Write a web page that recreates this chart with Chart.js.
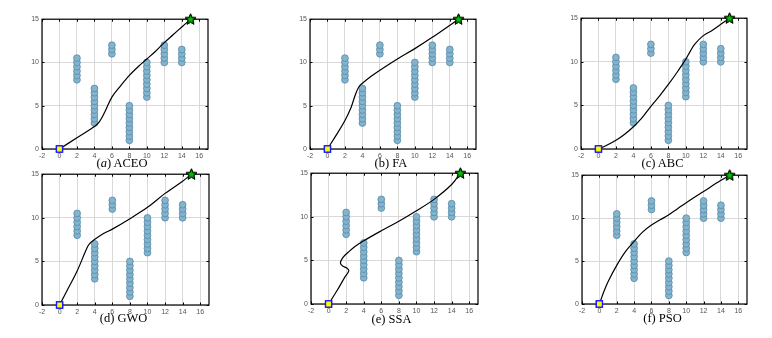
<!DOCTYPE html>
<html>
<head>
<meta charset="utf-8">
<script src="https://cdn.jsdelivr.net/npm/chart.js@4.4.1/dist/chart.umd.min.js"></script>
<style>
  html, body { margin: 0; padding: 0; background: #ffffff; }
  body { width: 772px; height: 338px; position: relative; overflow: hidden; }
  canvas { position: absolute; }
  .ttl { position: absolute; font-family: "Liberation Serif", "Times New Roman", serif; font-size: 12.5px; color: #000; white-space: nowrap; transform: translate(-50%, -50%); }
</style>
</head>
<body>
<script>
// ---- tick labels ----
const xTicks = [-2, 0, 2, 4, 6, 8, 10, 12, 14, 16];
const yTicks = [0, 5, 10, 15];

// ---- obstacles (circle centres) ----
const obstacleX = [2,2,2,2,2,2, 4,4,4,4,4,4,4,4,4, 6,6,6, 8,8,8,8,8,8,8,8,8, 10,10,10,10,10,10,10,10,10, 12,12,12,12,12, 14,14,14,14];
const obstacleY = [8,8.5,9,9.5,10,10.5, 3,3.5,4,4.5,5,5.5,6,6.5,7, 11,11.5,12, 1,1.5,2,2.5,3,3.5,4,4.5,5, 6,6.5,7,7.5,8,8.5,9,9.5,10, 10,10.5,11,11.5,12, 10,10.5,11,11.5];

// ---- start / goal ----
const startX = [0], startY = [0];
const goalX = [15], goalY = [15];

// ---- planned paths ----
const aceoX = [0, 2, 4, 4.6, 5.2, 6, 7, 8, 9, 10, 11, 12, 13, 14, 15];
const aceoY = [0, 1.3, 2.6, 3.2, 4.3, 6.0, 7.3, 8.5, 9.5, 10.4, 11.3, 12.3, 13.2, 14.1, 15];

const faX = [0, 1, 2, 2.7, 3.2, 3.6, 4, 5, 6, 8, 10, 12, 15];
const faY = [0, 1.6, 3.3, 4.8, 6.3, 7.2, 7.6, 8.4, 9.1, 10.4, 11.6, 12.9, 15];

const abcX = [0, 1, 2, 3, 4, 5, 6, 7, 8, 9, 10, 10.5, 11, 12, 13, 14, 15];
const abcY = [0, 0.45, 1.0, 1.7, 2.55, 3.6, 4.9, 6.1, 7.4, 8.8, 10.3, 11.2, 12.0, 13.0, 13.6, 14.3, 15];

const gwoX = [0, 1, 2, 3.1, 3.4, 3.9, 5, 6, 8, 10, 12, 14, 15];
const gwoY = [0, 1.95, 3.9, 6.5, 7.0, 7.45, 8.2, 8.7, 9.9, 11.2, 12.8, 14.2, 15];

const ssaX = [0, 1, 1.8, 2.3, 2.1, 1.6, 1.35, 1.6, 2.2, 3, 4, 6, 8, 10, 12, 14, 15];
const ssaY = [0, 1.6, 3.0, 3.8, 4.1, 4.35, 4.7, 5.3, 5.9, 6.6, 7.25, 8.4, 9.5, 10.7, 12.0, 13.7, 15];

const psoX = [0, 0.5, 1, 2, 3, 4, 5, 6, 7, 8, 9, 10, 12, 14, 15];
const psoY = [0, 1.4, 2.6, 4.5, 6.1, 7.3, 8.4, 9.2, 9.8, 10.4, 11.1, 11.8, 13.1, 14.4, 15];

// ---- panel layout (chart area edges in page pixels, title centre) ----
const panels = [
  { title: '(<i>a</i>) ACEO', xs: aceoX, ys: aceoY, L: 42,  T: 18,  R: 209, B: 149, tx: 122,   ty: 163 },
  { title: '(b) FA',          xs: faX,   ys: faY,   L: 310, T: 18,  R: 477, B: 149, tx: 391,   ty: 163 },
  { title: '(c) ABC',         xs: abcX,  ys: abcY,  L: 581, T: 17,  R: 748, B: 149, tx: 662.5, ty: 163 },
  { title: '(d) GWO',         xs: gwoX,  ys: gwoY,  L: 42,  T: 173, R: 210, B: 305, tx: 123.5, ty: 318 },
  { title: '(e) SSA',         xs: ssaX,  ys: ssaY,  L: 311, T: 172, R: 479, B: 304, tx: 391.5, ty: 319 },
  { title: '(f) PSO',         xs: psoX,  ys: psoY,  L: 582, T: 174, R: 748, B: 304, tx: 662.5, ty: 318 }
];

const zip = (xs, ys) => xs.map((x, i) => ({ x: x, y: ys[i] }));

// green star marker
function makeStar() {
  const c = document.createElement('canvas');
  c.width = 13; c.height = 13;
  const g = c.getContext('2d');
  const cx = 6.5, cy = 6.8, ro = 5.6, ri = 2.4;
  g.beginPath();
  for (let i = 0; i < 10; i++) {
    const r = i % 2 === 0 ? ro : ri;
    const a = -Math.PI / 2 + i * Math.PI / 5;
    const px = cx + r * Math.cos(a), py = cy + r * Math.sin(a);
    if (i === 0) g.moveTo(px, py); else g.lineTo(px, py);
  }
  g.closePath();
  g.fillStyle = '#00c000';
  g.fill();
  g.lineWidth = 1;
  g.strokeStyle = '#000';
  g.stroke();
  return c;
}
const starImg = makeStar();

const boxPlugin = {
  id: 'box',
  afterDatasetsDraw(chart) {
    const { ctx, chartArea: a, scales } = chart;
    ctx.save();
    ctx.strokeStyle = '#000';
    ctx.lineWidth = 1.2;
    ctx.strokeRect(a.left, a.top, a.right - a.left, a.bottom - a.top);
    ctx.beginPath();
    ctx.lineWidth = 1;
    const tl = 2.5;
    xTicks.forEach(v => {
      const px = Math.round(scales.x.getPixelForValue(v)) + 0.5;
      ctx.moveTo(px, a.bottom); ctx.lineTo(px, a.bottom - tl);
      ctx.moveTo(px, a.top); ctx.lineTo(px, a.top + tl);
    });
    yTicks.forEach(v => {
      const py = Math.round(scales.y.getPixelForValue(v)) + 0.5;
      ctx.moveTo(a.left, py); ctx.lineTo(a.left + tl, py);
      ctx.moveTo(a.right, py); ctx.lineTo(a.right - tl, py);
    });
    ctx.stroke();
    ctx.restore();
  }
};

// markers drawn after the box so they sit on top of it
const markerPlugin = {
  id: 'markersOnTop',
  afterDraw(chart) {
    [0, 1].forEach(i => {
      const meta = chart.getDatasetMeta(i);
      meta.data.forEach(el => el.draw(chart.ctx));
    });
  }
};

const YW = 20, XH = 12, PT = 6, PR = 6;
const tickFont = { size: 7, family: 'Liberation Sans, Arial, sans-serif' };

panels.forEach(p => {
  const cv = document.createElement('canvas');
  const w = (p.R - p.L) + YW + PR;
  const h = (p.B - p.T) + PT + XH;
  cv.width = w; cv.height = h;
  cv.style.left = (p.L - YW) + 'px';
  cv.style.top = (p.T - PT) + 'px';
  cv.style.width = w + 'px'; cv.style.height = h + 'px';
  document.body.appendChild(cv);

  const t = document.createElement('div');
  t.className = 'ttl';
  t.innerHTML = p.title;
  t.style.left = p.tx + 'px';
  t.style.top = p.ty + 'px';
  document.body.appendChild(t);

  new Chart(cv, {
    type: 'scatter',
    data: {
      datasets: [
        { data: zip(startX, startY), pointStyle: 'rect', pointRadius: 4.3, backgroundColor: '#ffff00', borderColor: '#1a1aff', borderWidth: 1.3, order: 0, clip: false },
        { data: zip(goalX, goalY), pointStyle: starImg, pointRadius: 6, order: 0, clip: false },
        { data: zip(p.xs, p.ys), showLine: true, tension: 0.35, borderColor: '#000', borderWidth: 1.2, pointRadius: 0, fill: false, order: 1 },
        { data: zip(obstacleX, obstacleY), pointStyle: 'circle', pointRadius: 3.4, backgroundColor: '#82b3cf', borderColor: '#5b8aa5', borderWidth: 0.8, order: 2 }
      ]
    },
    options: {
      responsive: false,
      animation: false,
      devicePixelRatio: 1,
      events: [],
      layout: { padding: { top: PT, right: PR, left: 0, bottom: 0 } },
      plugins: { legend: { display: false }, tooltip: { enabled: false } },
      scales: {
        x: {
          type: 'linear', min: -2, max: 17,
          afterBuildTicks: s => { s.ticks = xTicks.map(v => ({ value: v })); },
          afterFit: s => { s.height = XH; },
          grid: { color: '#d9d9d9', lineWidth: 1, drawTicks: false },
          border: { display: false },
          ticks: { font: tickFont, color: '#555', padding: 3, maxRotation: 0, autoSkip: false }
        },
        y: {
          type: 'linear', min: 0, max: 15,
          afterBuildTicks: s => { s.ticks = yTicks.map(v => ({ value: v })); },
          afterFit: s => { s.width = YW; },
          grid: { color: '#d9d9d9', lineWidth: 1, drawTicks: false },
          border: { display: false },
          ticks: { font: tickFont, color: '#555', padding: 3, autoSkip: false }
        }
      }
    },
    plugins: [boxPlugin, markerPlugin]
  });
});
</script>
</body>
</html>
